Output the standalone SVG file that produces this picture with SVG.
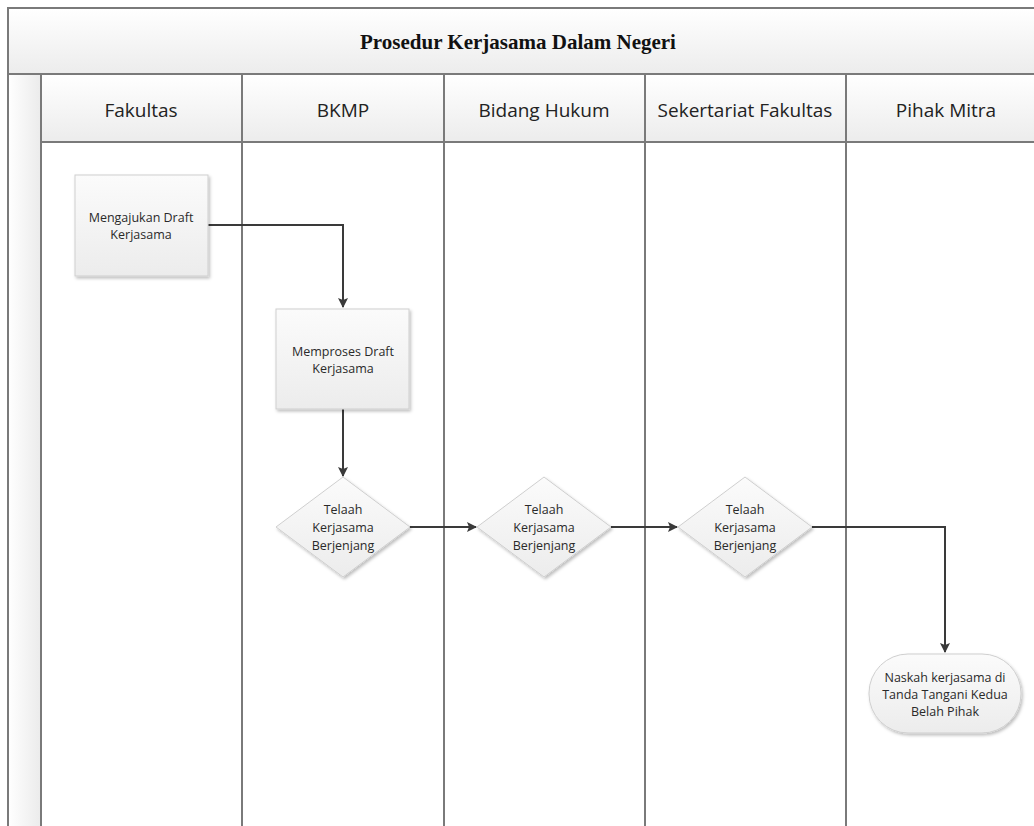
<svg xmlns="http://www.w3.org/2000/svg" width="1034" height="826" viewBox="0 0 1034 826">
<defs>
<linearGradient id="hdr" x1="0" y1="0" x2="0" y2="1"><stop offset="0" stop-color="#ffffff"/><stop offset="1" stop-color="#ececec"/></linearGradient>
<linearGradient id="side" x1="0" y1="0" x2="1" y2="0"><stop offset="0" stop-color="#ffffff"/><stop offset="1" stop-color="#ebebeb"/></linearGradient>
<linearGradient id="nd" x1="0" y1="0" x2="0" y2="1"><stop offset="0" stop-color="#fbfbfb"/><stop offset="1" stop-color="#ececec"/></linearGradient>
<filter id="sh" x="-10%" y="-10%" width="130%" height="130%"><feDropShadow dx="1.5" dy="2" stdDeviation="1.5" flood-color="#000" flood-opacity="0.25"/></filter>
<marker id="ah" markerWidth="10" markerHeight="10" refX="9" refY="5" orient="auto" markerUnits="userSpaceOnUse"><path d="M0,0 L10,5 L0,10 L2,5 Z" fill="#3a3a3a"/></marker>
<style>
.lane{stroke:#7a7a7a;stroke-width:2;fill:none}
.hdrtxt{font-family:"Open Sans","Liberation Sans",sans-serif;font-size:19px;fill:#222;text-anchor:middle}
.ttl{font-family:"Liberation Serif",serif;font-size:21px;font-weight:bold;fill:#111;text-anchor:middle}
.node{fill:url(#nd);stroke:#cfcfcf;stroke-width:1;filter:url(#sh)}
.nt{font-family:"Open Sans","Liberation Sans",sans-serif;font-size:12.5px;fill:#2a2a2a;text-anchor:middle}
.con{stroke:#3a3a3a;stroke-width:2;fill:none;marker-end:url(#ah)}
</style>
</defs>
<rect width="1034" height="826" fill="#ffffff"/>
<g id="pool">
<rect x="8" y="8" width="1040" height="66" fill="url(#hdr)" stroke="#7a7a7a" stroke-width="2"/>
<rect x="8" y="74" width="33" height="760" fill="url(#side)" stroke="#7a7a7a" stroke-width="2"/>
<rect x="41" y="74" width="1007" height="68" fill="url(#hdr)" stroke="#7a7a7a" stroke-width="2"/>
<line class="lane" x1="242" y1="74" x2="242" y2="834"/>
<line class="lane" x1="444" y1="74" x2="444" y2="834"/>
<line class="lane" x1="645" y1="74" x2="645" y2="834"/>
<line class="lane" x1="846" y1="74" x2="846" y2="834"/>
<line class="lane" x1="41" y1="142" x2="1048" y2="142"/>
<text class="ttl" x="518" y="49">Prosedur Kerjasama Dalam Negeri</text>
<text class="hdrtxt" x="141" y="117">Fakultas</text>
<text class="hdrtxt" x="343" y="117">BKMP</text>
<text class="hdrtxt" x="544" y="117">Bidang Hukum</text>
<text class="hdrtxt" x="745" y="117">Sekertariat Fakultas</text>
<text class="hdrtxt" x="946" y="117">Pihak Mitra</text>
</g>
<g id="connectors">
<path class="con" d="M208,225 H343 V307"/>
<path class="con" d="M343,409 V476"/>
<path class="con" d="M409,527 H476"/>
<path class="con" d="M611,527 H677"/>
<path class="con" d="M812,527 H945 V652"/>
</g>
<g id="n1">
<rect class="node" x="75" y="175" width="133" height="101"/>
<text class="nt" x="141" y="222">Mengajukan Draft</text>
<text class="nt" x="141" y="239">Kerjasama</text>
</g>
<g id="n2">
<rect class="node" x="276" y="309" width="133" height="100"/>
<text class="nt" x="343" y="356">Memproses Draft</text>
<text class="nt" x="343" y="373">Kerjasama</text>
</g>
<g id="d1">
<polygon class="node" points="343,477 410,527 343,577 276,527"/>
<text class="nt" x="343" y="514">Telaah</text>
<text class="nt" x="343" y="532">Kerjasama</text>
<text class="nt" x="343" y="550">Berjenjang</text>
</g>
<g id="d2">
<polygon class="node" points="544,477 611,527 544,577 477,527"/>
<text class="nt" x="544" y="514">Telaah</text>
<text class="nt" x="544" y="532">Kerjasama</text>
<text class="nt" x="544" y="550">Berjenjang</text>
</g>
<g id="d3">
<polygon class="node" points="745,477 812,527 745,577 678,527"/>
<text class="nt" x="745" y="514">Telaah</text>
<text class="nt" x="745" y="532">Kerjasama</text>
<text class="nt" x="745" y="550">Berjenjang</text>
</g>
<g id="t1">
<rect class="node" x="869" y="654" width="152" height="79" rx="39" ry="39"/>
<text class="nt" x="945" y="682">Naskah kerjasama di</text>
<text class="nt" x="945" y="699">Tanda Tangani Kedua</text>
<text class="nt" x="945" y="716">Belah Pihak</text>
</g>
</svg>
